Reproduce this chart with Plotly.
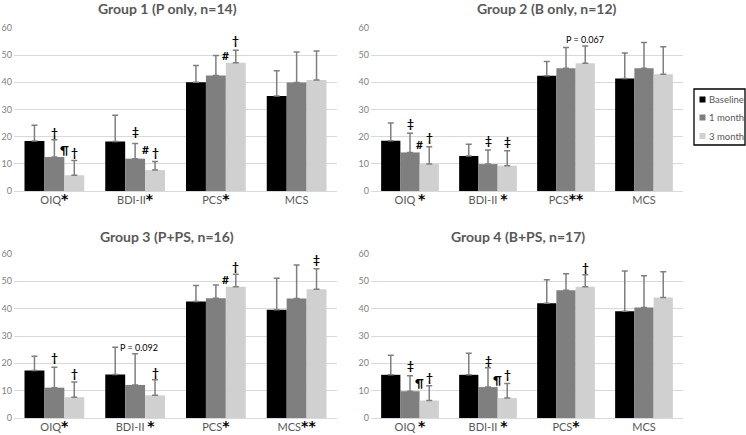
import plotly.graph_objects as go

# ---------------- data ----------------
categories = ["OIQ", "BDI-II", "PCS", "MCS"]
series_names = ["Baseline", "1 month", "3 month"]
series_colors = ["#000000", "#7f7f7f", "#d0d0d0"]

group_titles = ["Group 1 (P only, n=14)", "Group 2 (B only, n=12)",
                "Group 3 (P+PS, n=16)", "Group 4 (B+PS, n=17)"]

# means
g1_base = [18.4, 18.2, 40.0, 35.0]
g1_m1 = [12.5, 11.9, 42.5, 39.9]
g1_m3 = [5.8, 7.7, 47.2, 40.9]
g2_base = [18.5, 12.9, 42.4, 41.4]
g2_m1 = [14.2, 9.9, 45.2, 45.2]
g2_m3 = [9.9, 9.3, 47.0, 43.0]
g3_base = [17.4, 15.9, 42.6, 39.6]
g3_m1 = [11.1, 12.1, 43.8, 43.7]
g3_m3 = [7.6, 8.3, 48.0, 47.1]
g4_base = [15.8, 15.8, 42.0, 39.1]
g4_m1 = [9.8, 11.3, 46.7, 40.4]
g4_m3 = [6.4, 7.3, 48.0, 44.1]

# standard deviations (upper error bars)
g1_base_sd = [5.8, 9.7, 6.2, 9.3]
g1_m1_sd = [6.4, 5.6, 7.4, 11.3]
g1_m3_sd = [5.4, 3.2, 4.6, 10.6]
g2_base_sd = [6.5, 4.3, 5.3, 9.4]
g2_m1_sd = [7.1, 5.2, 7.6, 9.5]
g2_m3_sd = [6.4, 5.5, 6.4, 10.1]
g3_base_sd = [5.2, 10.0, 5.9, 11.5]
g3_m1_sd = [7.5, 11.4, 4.9, 12.3]
g3_m3_sd = [5.6, 5.7, 4.6, 7.5]
g4_base_sd = [7.2, 7.9, 8.6, 14.7]
g4_m1_sd = [5.7, 7.1, 6.1, 11.6]
g4_m3_sd = [5.4, 5.3, 4.4, 9.4]

# category labels with significance markers per group
g1_ticks = ["OIQ*", "BDI-II*", "PCS*", "MCS"]
g2_ticks = ["OIQ *", "BDI-II *", "PCS**", "MCS"]
g3_ticks = ["OIQ*", "BDI-II *", "PCS*", "MCS**"]
g4_ticks = ["OIQ *", "BDI-II *", "PCS*", "MCS"]

y_ticks = [0, 10, 20, 30, 40, 50, 60]

# significance symbols: (category, slot from 1-month bar, value, text)
g1_marks = [(0, 0, 21.5, "†"), (0, 0.5, 15.4, "¶"), (0, 1, 14.2, "†"),
            (1, 0, 21.9, "‡"), (1, 0.5, 15.4, "#"), (1, 1, 14.2, "†"),
            (2, 0.5, 50.0, "#"), (2, 1, 55.3, "†")]
g2_marks = [(0, 0, 24.9, "‡"), (0, 0.5, 17.3, "#"), (0, 1, 19.8, "†"),
            (1, 0, 18.5, "‡"), (1, 1, 18.3, "‡"),
            (2, 1, 55.8, "P = 0.067")]
g3_marks = [(0, 0, 22.0, "†"), (0, 1, 16.3, "†"),
            (1, 0.2, 25.9, "P = 0.092"), (1, 1, 16.6, "†"),
            (2, 0.5, 50.5, "#"), (2, 1, 55.4, "†"),
            (3, 1, 58.0, "‡")]
g4_marks = [(0, 0, 19.3, "‡"), (0, 0.5, 13.0, "¶"), (0, 1, 14.8, "†"),
            (1, 0, 20.9, "‡"), (1, 0.5, 14.0, "¶"), (1, 1, 16.0, "†"),
            (2, 1, 55.2, "†")]

groups = [
    ([g1_base, g1_m1, g1_m3], [g1_base_sd, g1_m1_sd, g1_m3_sd], g1_ticks, g1_marks),
    ([g2_base, g2_m1, g2_m3], [g2_base_sd, g2_m1_sd, g2_m3_sd], g2_ticks, g2_marks),
    ([g3_base, g3_m1, g3_m3], [g3_base_sd, g3_m1_sd, g3_m3_sd], g3_ticks, g3_marks),
    ([g4_base, g4_m1, g4_m3], [g4_base_sd, g4_m1_sd, g4_m3_sd], g4_ticks, g4_marks),
]

# ---------------- layout geometry ----------------
W, H = 746, 435
FONT = "Lato, 'Open Sans', sans-serif"
TXT = "#595959"
BARGAP = 0.26
slot_w = (1 - BARGAP) / 3

# pixel boxes (x0, x1, ytop, ybottom)
boxes = [(14, 337, 28, 191), (371, 683, 28, 191),
         (14, 337, 254, 418), (371, 683, 254, 418)]
title_pos = [(167, 8), (547, 8), (167, 236), (518, 236)]


def fmt_tick(s):
    out = s.replace("*", "")
    stars = s.count("*")
    if stars:
        out += ("<span style='font-family:DejaVu Sans;font-size:14px;color:#000000'><b>"
                + "*" * stars + "</b></span>")
    return out


fig = go.Figure()
annotations = []
for gi, (means, sds, ticks, marks) in enumerate(groups):
    sfx = "" if gi == 0 else str(gi + 1)
    for si in range(3):
        fig.add_trace(go.Bar(
            x=categories, y=means[si], name=series_names[si],
            marker=dict(color=series_colors[si], line=dict(width=0)),
            error_y=dict(type="data", array=sds[si], symmetric=False,
                         arrayminus=[0] * len(categories),
                         color="#7f7f7f", thickness=1.5, width=3),
            xaxis="x" + sfx, yaxis="y" + sfx, showlegend=False,
            hoverinfo="skip"))
    x0, x1, yt, yb = boxes[gi]
    fig.layout["xaxis" + sfx] = dict(
        domain=[x0 / W, x1 / W], anchor="y" + sfx, type="category",
        categoryorder="array", categoryarray=categories,
        tickvals=categories, ticktext=[fmt_tick(t) for t in ticks],
        showgrid=False, showline=False, zeroline=False, ticks="",
        ticklabelstandoff=1,
        tickfont=dict(family=FONT, size=11, color=TXT), fixedrange=True,
        automargin=False)
    fig.layout["yaxis" + sfx] = dict(
        domain=[1 - yb / H, 1 - yt / H], anchor="x" + sfx, range=[0, 60],
        tickvals=y_ticks, showgrid=True, gridcolor="#d9d9d9", gridwidth=1,
        zeroline=True, zerolinecolor="#d9d9d9", zerolinewidth=1,
        showline=False, ticks="", ticklabelstandoff=1,
        tickfont=dict(family=FONT, size=9, color="#7f7f7f"), fixedrange=True,
        automargin=False)
    tx, ty = title_pos[gi]
    annotations.append(dict(
        text="<b>" + group_titles[gi] + "</b>", x=tx / W, y=1 - ty / H,
        xref="paper", yref="paper", xanchor="center", yanchor="middle",
        showarrow=False, font=dict(family=FONT, size=14, color=TXT)))
    for ci, slot, val, txt in marks:
        small = txt.startswith("P")
        annotations.append(dict(
            text=txt if small else "<b>" + txt + "</b>",
            x=ci + slot * slot_w, y=val, xref="x" + sfx, yref="y" + sfx,
            xanchor="center", yanchor="middle", showarrow=False,
            font=dict(family=FONT, size=9 if small else 12, color="#000000")))

# ---------------- custom legend ----------------
shapes = [dict(type="rect", xref="paper", yref="paper",
               x0=694 / W, x1=745 / W, y0=1 - 145 / H, y1=1 - 89 / H,
               line=dict(color="#000000", width=1.3), fillcolor="rgba(0,0,0,0)")]
leg_rows = [99.5, 117.5, 136]
for si, name in enumerate(series_names):
    ry = leg_rows[si]
    shapes.append(dict(type="rect", xref="paper", yref="paper",
                       x0=699.5 / W, x1=705.5 / W, y0=1 - (ry + 3) / H, y1=1 - (ry - 3) / H,
                       line=dict(width=0), fillcolor=series_colors[si]))
    annotations.append(dict(text=name, x=707 / W, y=1 - ry / H, xref="paper", yref="paper",
                            xanchor="left", yanchor="middle", showarrow=False,
                            font=dict(family=FONT, size=9.5, color=TXT)))

fig.update_layout(
    width=W, height=H, margin=dict(l=0, r=0, t=0, b=0, autoexpand=False),
    paper_bgcolor="#ffffff", plot_bgcolor="#ffffff",
    barmode="group", bargap=BARGAP, bargroupgap=0,
    annotations=annotations, shapes=shapes, showlegend=False,
    font=dict(family=FONT, color=TXT))

fig.write_html("out.html", config={"displayModeBar": False},
               post_script="document.body.style.margin='0px';")
